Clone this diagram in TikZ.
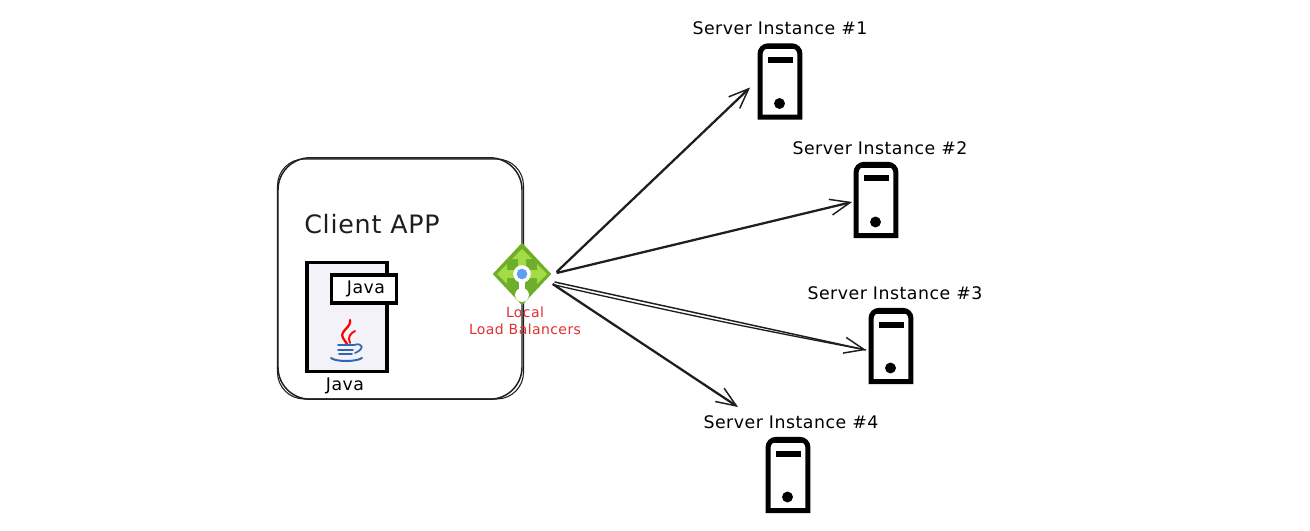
\documentclass[tikz,border=0pt]{standalone}
\usepackage{fontspec}
\setmainfont{DejaVu Sans}
\newfontfamily\sketchfont[LetterSpace=3]{DejaVu Sans}
\usetikzlibrary{arrows.meta,shapes.geometric}
\definecolor{inkdark}{HTML}{1E1E1E}
\definecolor{lbgreen}{HTML}{6FAE2B}
\definecolor{lblight}{HTML}{A4DC45}
\definecolor{lbblue}{HTML}{5EA0EF}
\definecolor{lbred}{HTML}{E03131}
\definecolor{javapage}{HTML}{F3F2F8}
\definecolor{javablue}{HTML}{2F68B0}
\tikzset{
  sketcharrow/.style={draw=inkdark, line width=1.7pt, -{Straight Barb[length=15pt,width=12pt,line width=1.1pt]}},
  serverbox/.style={rectangle, minimum width=29.5pt, minimum height=53pt, inner sep=0pt},
  serverlabel/.style={font=\sketchfont\fontsize{13}{15}\selectfont, text=black, inner sep=0pt},
  javaline/.style={draw=black, line width=2.4pt}
}
\begin{document}
\begin{tikzpicture}[x=0.75pt, y=-0.75pt]
  \useasboundingbox (0,0) rectangle (1310,531);
  \fill[white] (0,0) rectangle (1310,531);

  % client box
  \node (client) [draw=inkdark, line width=1.1pt, rectangle, rounded corners=24pt, minimum width=183pt, minimum height=181pt] at (400,278.5) {};
  \draw[inkdark, line width=0.8pt, rounded corners=20pt] (277.5,159) rectangle (523.5,399);
  \node (clienttitle) [text=inkdark, inner sep=0pt, font=\sketchfont\fontsize{19}{22}\selectfont] at (372,224) {Client APP};

  % java file
  \node (javafile) [javaline, fill=javapage, rectangle, minimum width=60pt, minimum height=82pt, inner sep=0pt] at (347,317) {};
  \node (javatab) [javaline, fill=white, rectangle, minimum width=49pt, minimum height=21pt, inner sep=0pt, font=\sketchfont\fontsize{13}{15}\selectfont] at (364,289) {\hspace{3pt}Java};
  \node (javaname) [inner sep=0pt, font=\sketchfont\fontsize{13}{15}\selectfont] at (345,386) {Java};
  \draw[red, line width=1.7pt, line cap=round] (350,320) .. controls (352,327) and (339,331) .. (343,338) .. controls (344,340) and (346,342) .. (347,344);
  \draw[red, line width=1.4pt, line cap=round] (355,331) .. controls (351,333) and (347,337) .. (350,343);
  \draw[javablue, line width=1.3pt, line cap=round] (338,345) -- (354,345) .. controls (363,342) and (365,349) .. (355,353);
  \draw[javablue, line width=1.3pt, line cap=round] (338,350) -- (353,350);
  \draw[javablue, line width=1.3pt, line cap=round] (339,354) -- (352,354);
  \draw[javablue, line width=1.5pt, line cap=round] (331,358) .. controls (336,362) and (356,362) .. (362,358);

  % load balancer
  \node (lb) [diamond, fill=lbgreen, minimum width=44pt, minimum height=47pt, inner sep=0pt] at (522,274) {};
  \fill[lblight] (522,249) -- (532,259) -- (526,259) -- (526,268) -- (518,268) -- (518,259) -- (512,259) -- cycle;
  \fill[lblight] (497,274) -- (507,264) -- (507,270) -- (516,270) -- (516,278) -- (507,278) -- (507,284) -- cycle;
  \fill[lblight] (547,274) -- (537,264) -- (537,270) -- (528,270) -- (528,278) -- (537,278) -- (537,284) -- cycle;
  \fill[white] (519,274) rectangle (525,292);
  \fill[white] (522,295) circle (5.2pt);
  \fill[white] (522,274) circle (6.6pt);
  \fill[lbblue] (522,274) circle (4pt);
  \node (lblabel) [text=lbred, align=center, inner sep=0pt, font=\sketchfont\fontsize{10.5}{13}\selectfont] at (525,321) {Local\\Load Balancers};

  % servers
  \foreach \n/\x/\y/\lx/\ly in {1/780/81.5/780/28, 2/876/200/880/148, 3/891/346/895/293, 4/788/475/791/422} {
    \node (srv\n) [serverbox] at (\x,\y) {};
    \node (srvlabel\n) [serverlabel] at (\lx,\ly) {Server Instance \#\n};
    \draw[black, line width=3.8pt] (srv\n.south west) [rounded corners=6pt] -- (srv\n.north west) -- (srv\n.north east) [sharp corners] -- (srv\n.south east) -- cycle;
    \fill[black] ([xshift=3pt]srv\n.north west) rectangle ([shift={(-4,3.5)}]srv\n.north east);
    \fill[black] ([shift={(-12.5,-24.5)}]srv\n.center) rectangle ([shift={(12.5,-18.5)}]srv\n.center);
    \fill[black] ([shift={(-0.5,22)}]srv\n.center) circle (4.1pt);
  }

  % arrow ends
  \coordinate (out1) at ([shift={(5,-2)}]lb.east);
  \coordinate (out2) at ([shift={(5,-1)}]lb.east);
  \coordinate (out3) at ([shift={(3,8)}]lb.east);
  \coordinate (out4) at ([shift={(1,10)}]lb.east);
  \coordinate (in1) at ([shift={(-10,6)}]srv1.west);
  \coordinate (in2) at ([shift={(-4,2)}]srv2.west);
  \coordinate (in3) at ([shift={(-5,4)}]srv3.west);
  \coordinate (in4) at ([shift={(-53,-15)}]srvlabel4.center);

  \draw[sketcharrow] (out1) -- (in1);
  \draw[sketcharrow] (out2) -- (in2);
  \draw[sketcharrow, line width=1.1pt] (out3) -- (in3);
  \draw[draw=inkdark, line width=1pt] ([shift={(0,3)}]out3) to[bend right=1] (in3);
  \draw[sketcharrow] (out4) -- (in4);
\end{tikzpicture}
\end{document}
